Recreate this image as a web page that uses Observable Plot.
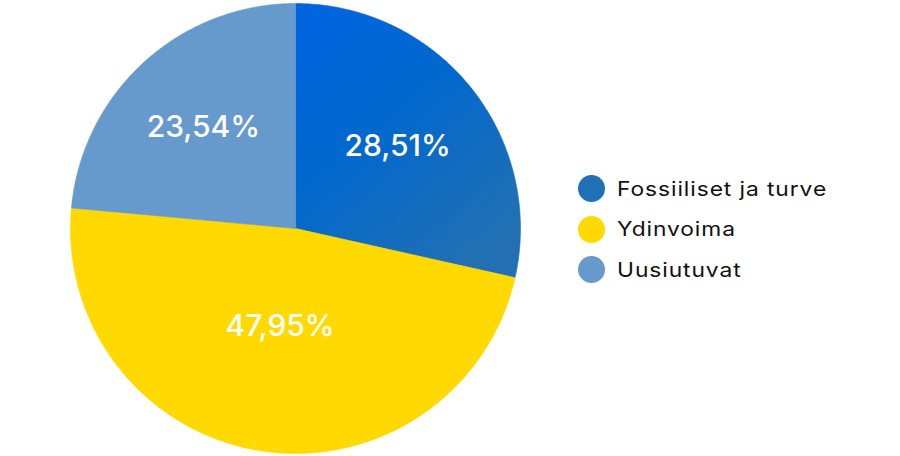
<!DOCTYPE html>
<html>
<head>
<meta charset="utf-8">
<script src="https://cdn.jsdelivr.net/npm/d3@7"></script>
<script src="https://cdn.jsdelivr.net/npm/@observablehq/plot@0.6"></script>
<style>
  html, body { margin: 0; padding: 0; background: #fff; }
  #wrap { position: relative; width: 900px; height: 456px; font-family: Inter, "Noto Sans", sans-serif; }
  #legend { position: absolute; left: 578px; top: 175px; }
  .item { display: flex; align-items: center; height: 27px; margin-bottom: 13.5px; font-size: 20px; color: #111; white-space: nowrap; }
  .sw { width: 27px; height: 27px; border-radius: 50%; margin-right: 12px; flex: none; }
  .tx { display: inline-block; letter-spacing: 0.8px; transform: scaleX(1.14); transform-origin: 0 50%; }
</style>
</head>
<body>
<div id="wrap"><div id="legend"></div></div>
<script>
const categories = ["Fossiiliset ja turve", "Ydinvoima", "Uusiutuvat"];
const values = [28.51, 47.95, 23.54];
const labels = ["28,51%", "47,95%", "23,54%"];
const sliceFills = ["url(#blueGrad)", "#FFD900", "#6699CC"];
const legendColors = ["#2070B8", "#FFD900", "#6699CC"];

const W = 900, H = 456, CX = 295, CY = 228, R = 225;

const arcs = d3.pie().sort(null).startAngle(0).endAngle(2 * Math.PI)(values);

const pts = [];
arcs.forEach((a, i) => {
  pts.push({cat: categories[i], x: 0, y: 0});
  const n = Math.max(2, Math.ceil((a.endAngle - a.startAngle) / 0.005));
  for (let k = 0; k <= n; k++) {
    const t = a.startAngle + (a.endAngle - a.startAngle) * k / n;
    pts.push({cat: categories[i], x: Math.sin(t), y: Math.cos(t)});
  }
  pts.push({cat: categories[i], x: 0, y: 0});
});

// labels at the area centroid of each sector
const labelPts = arcs.map((a, i) => {
  const m = (a.startAngle + a.endAngle) / 2;
  const half = (a.endAngle - a.startAngle) / 2;
  const rr = (2 / 3) * Math.sin(half) / half;
  return {label: labels[i], x: rr * Math.sin(m), y: rr * Math.cos(m)};
});

const chart = Plot.plot({
  width: W, height: H,
  margin: 0,
  x: {domain: [-CX / R, (W - CX) / R], range: [0, W], axis: null},
  y: {domain: [-(H - CY) / R, CY / R], range: [H, 0], axis: null},
  color: {domain: categories, range: sliceFills},
  marks: [
    Plot.line(pts, {x: "x", y: "y", z: "cat", fill: "cat", stroke: "cat", strokeWidth: 0.6, curve: "linear"}),
    Plot.text(labelPts, {x: "x", y: "y", text: "label", fill: "white", fontSize: 30, fontWeight: 500, fontFamily: "Inter, sans-serif"})
  ]
});

const svg = d3.select(chart);
const defs = svg.insert("defs", ":first-child");
const g = defs.append("linearGradient").attr("id", "blueGrad")
  .attr("x1", 0).attr("y1", 0).attr("x2", 0.7).attr("y2", 1);
g.append("stop").attr("offset", "0").attr("stop-color", "#0064E2");
g.append("stop").attr("offset", "0.45").attr("stop-color", "#0068CE");
g.append("stop").attr("offset", "1").attr("stop-color", "#2270B3");

document.getElementById("wrap").prepend(chart);

const legend = document.getElementById("legend");
categories.forEach((c, i) => {
  const it = document.createElement("div");
  it.className = "item";
  const sw = document.createElement("div");
  sw.className = "sw";
  sw.style.background = legendColors[i];
  const tx = document.createElement("span");
  tx.className = "tx";
  tx.textContent = c;
  it.appendChild(sw); it.appendChild(tx);
  legend.appendChild(it);
});
</script>
</body>
</html>
